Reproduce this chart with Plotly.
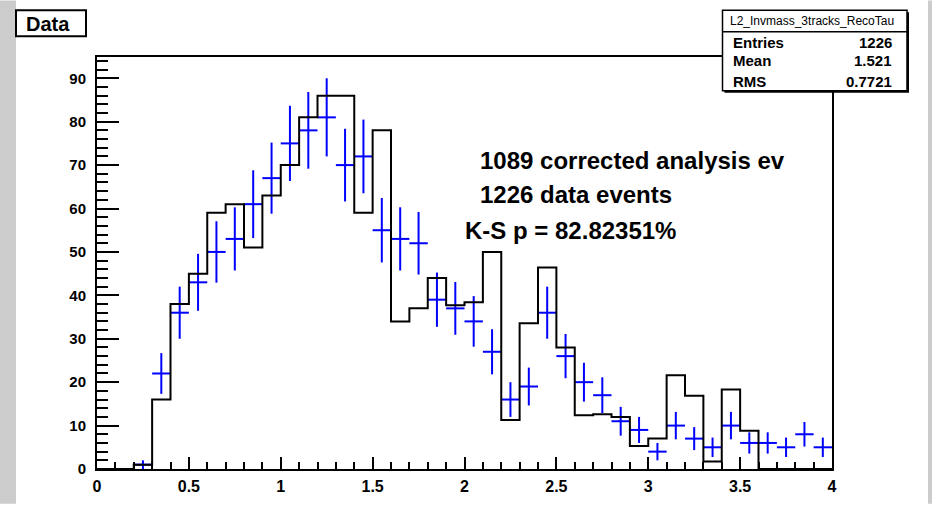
import numpy as np
import plotly.graph_objects as go

# ---- data ----
bin_edges = [round(0.1 * i, 1) for i in range(41)]
bin_centers = [round(0.1 * i + 0.05, 2) for i in range(40)]

mc_values = [0, 0, 1, 16, 38, 45, 59, 61, 51, 63,
             70, 81, 86, 86, 59, 78, 34, 37, 44, 37.7,
             38.4, 50, 11.3, 33.6, 46.4, 28, 12.4, 12.6, 12.0, 5.3,
             7.0, 21.6, 16.9, 1.7, 18.3, 8.8, 0, 0, 0, 0]

data_counts = [0, 0, 1, 22, 36, 43, 50, 53, 61, 67,
               75, 78, 81, 70, 72, 55, 53, 52, 39, 37,
               34, 27, 16, 19, 36, 26, 20, 17, 11, 9,
               4, 10, 7, 5, 10, 6, 6, 5, 8, 5]

x_ticks = [0, 0.5, 1, 1.5, 2, 2.5, 3, 3.5, 4]
x_tick_text = ["0", "0.5", "1", "1.5", "2", "2.5", "3", "3.5", "4"]
y_ticks = [0, 10, 20, 30, 40, 50, 60, 70, 80, 90]

stats_title = "L2_Invmass_3tracks_RecoTau"
stats_rows = [("Entries", "1226"), ("Mean", "1.521"), ("RMS", "0.7721")]
info_lines = ["1089 corrected analysis ev", "1226 data events", "K-S p = 82.82351%"]

# ---- geometry ----
W, H = 932, 507
ML, MR, MT, MB = 97, 100, 57, 35
PW, PH = W - ML - MR, H - MT - MB


def px(x):
    return (x - ML) / PW


def py(y):
    return (H - MB - y) / PH


FONT = "Liberation Sans, Arial, Helvetica, sans-serif"

fig = go.Figure()

# data points with error bars
dx = [c for c, v in zip(bin_centers, data_counts) if v > 0]
dy = [v for v in data_counts if v > 0]
derr = list(np.sqrt(dy))
fig.add_trace(go.Scatter(
    x=dx, y=dy, mode="markers",
    marker=dict(size=0.1, color="#0000ff"),
    error_y=dict(type="data", array=derr, width=0, thickness=2, color="#0000ff"),
    error_x=dict(type="constant", value=0.05, width=0, thickness=2, color="#0000ff"),
    showlegend=False, hoverinfo="x+y",
))

# MC histogram outline
hx = bin_edges
hy = mc_values + [mc_values[-1]]
fig.add_trace(go.Scatter(
    x=hx, y=hy, mode="lines", line=dict(color="black", width=2, shape="hv"),
    showlegend=False, hoverinfo="skip",
))

shapes = []
# gray side strips
shapes.append(dict(type="rect", xref="paper", yref="paper", x0=px(0), x1=px(16),
                   y0=py(H), y1=py(0), fillcolor="#cccccc", line=dict(width=0), layer="below"))
shapes.append(dict(type="rect", xref="paper", yref="paper", x0=px(928), x1=px(W),
                   y0=py(H), y1=py(0), fillcolor="#cccccc", line=dict(width=0), layer="below"))
# Data title box
shapes.append(dict(type="rect", xref="paper", yref="paper", x0=px(16), x1=px(86),
                   y0=py(36), y1=py(10), fillcolor="white", line=dict(color="black", width=2)))
# stats box shadow + box
shapes.append(dict(type="rect", xref="paper", yref="paper", x0=px(724.5), x1=px(909),
                   y0=py(93), y1=py(12), fillcolor="black", line=dict(width=0)))
shapes.append(dict(type="rect", xref="paper", yref="paper", x0=px(722.5), x1=px(907),
                   y0=py(91), y1=py(10), fillcolor="white", line=dict(color="black", width=1.5)))
shapes.append(dict(type="line", xref="paper", yref="paper", x0=px(722.5), x1=px(907),
                   y0=py(31.5), y1=py(31.5), line=dict(color="black", width=1.5)))

annotations = []
annotations.append(dict(text="Data", xref="paper", yref="paper", x=px(48), y=py(24),
                        xanchor="center", yanchor="middle", showarrow=False,
                        font=dict(family=FONT, size=20, color="black", weight="bold")))
annotations.append(dict(text=stats_title, xref="paper", yref="paper", x=px(812), y=py(20.5),
                        xanchor="center", yanchor="middle", showarrow=False,
                        font=dict(family=FONT, size=12, color="black")))
row_y = [42.5, 61, 81.5]
for (lab, val), yy in zip(stats_rows, row_y):
    annotations.append(dict(text=lab, xref="paper", yref="paper", x=px(731), y=py(yy),
                            xanchor="left", yanchor="middle", showarrow=False,
                            font=dict(family=FONT, size=15, color="black", weight="bold")))
    annotations.append(dict(text=val, xref="paper", yref="paper", x=px(894), y=py(yy),
                            xanchor="right", yanchor="middle", showarrow=False,
                            font=dict(family=FONT, size=15, color="black", weight="bold")))
info_pos = [(478, 161), (478, 196), (463, 232)]
for txt, (xx, yy) in zip(info_lines, info_pos):
    annotations.append(dict(text=txt, xref="paper", yref="paper", x=px(xx), y=py(yy),
                            xanchor="left", yanchor="middle", showarrow=False,
                            font=dict(family=FONT, size=24, color="black", weight="bold")))

fig.update_layout(
    width=W, height=H,
    margin=dict(l=ML, r=MR, t=MT, b=MB, pad=0),
    paper_bgcolor="white", plot_bgcolor="white",
    shapes=shapes, annotations=annotations,
    showlegend=False,
    xaxis=dict(range=[0, 4], showgrid=False, zeroline=False,
               showline=True, linecolor="black", linewidth=2, mirror=True,
               ticks="inside", ticklen=12, tickwidth=2, tickcolor="black",
               tickvals=x_ticks, ticktext=x_tick_text,
               minor=dict(dtick=0.1, tick0=0, ticks="inside", ticklen=7, tickwidth=2, tickcolor="black"),
               tickfont=dict(family=FONT, size=16, color="black", weight="bold"),
               ticklabelstandoff=2),
    yaxis=dict(range=[0, 94.9], showgrid=False, zeroline=False,
               showline=True, linecolor="black", linewidth=2, mirror=True,
               ticks="inside", ticklen=22, tickwidth=2, tickcolor="black",
               tickvals=y_ticks,
               minor=dict(dtick=2, tick0=0, ticks="inside", ticklen=11, tickwidth=2, tickcolor="black"),
               tickfont=dict(family=FONT, size=15, color="black", weight="bold"),
               ticklabelstandoff=6),
)

fig.write_html("out.html")
